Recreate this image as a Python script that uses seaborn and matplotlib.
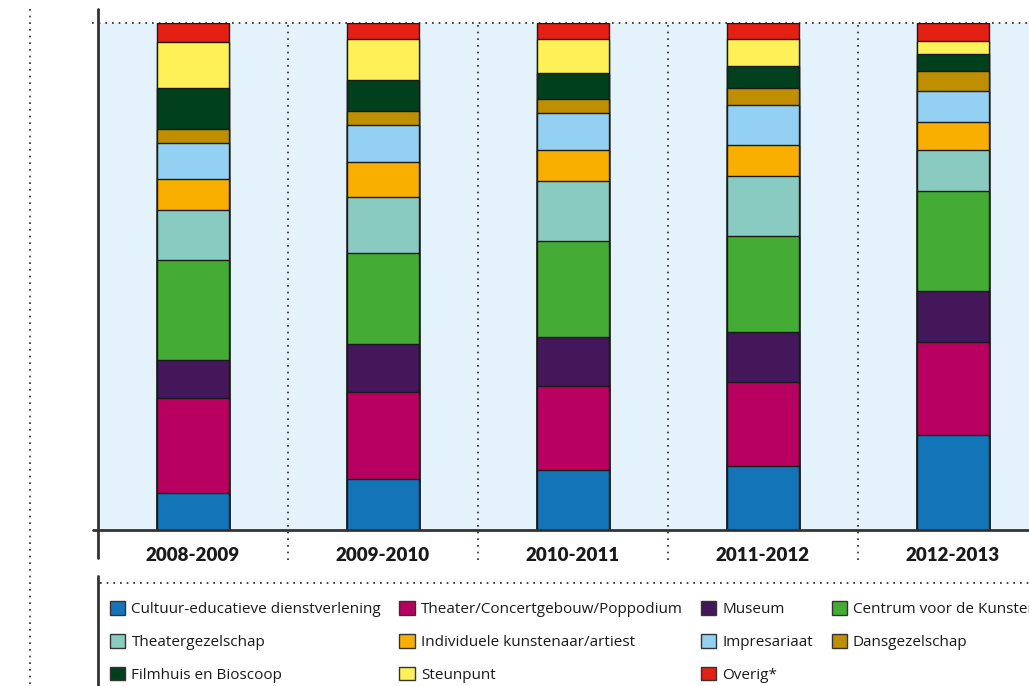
import matplotlib
matplotlib.use("Agg")
import matplotlib.pyplot as plt
from matplotlib.lines import Line2D
from matplotlib.patches import Patch
import seaborn as sns
import pandas as pd
import numpy as np

years = ["2008-2009", "2009-2010", "2010-2011", "2011-2012", "2012-2013"]
series = [
    "Cultuur-educatieve dienstverlening",
    "Theater/Concertgebouw/Poppodium",
    "Museum",
    "Centrum voor de Kunsten",
    "Theatergezelschap",
    "Individuele kunstenaar/artiest",
    "Impresariaat",
    "Dansgezelschap",
    "Filmhuis en Bioscoop",
    "Steunpunt",
    "Overig*",
]
cultuur_edu = [7.3, 10.1, 11.8, 12.6, 18.7]
theater_concert = [18.8, 17.0, 16.6, 16.6, 18.3]
museum = [7.5, 9.5, 9.7, 9.9, 10.2]
centrum_kunsten = [19.6, 17.9, 19.0, 19.0, 19.6]
theatergezelschap = [9.9, 11.1, 11.8, 11.8, 8.2]
individuele = [6.2, 6.9, 6.1, 6.2, 5.4]
impresariaat = [7.1, 7.3, 7.4, 7.9, 6.2]
dansgezelschap = [2.6, 2.8, 2.6, 3.3, 3.9]
filmhuis = [8.2, 6.0, 5.3, 4.4, 3.4]
steunpunt = [9.1, 8.2, 6.7, 5.2, 2.5]
overig = [3.7, 3.1, 3.1, 3.2, 3.6]

values = [cultuur_edu, theater_concert, museum, centrum_kunsten, theatergezelschap,
          individuele, impresariaat, dansgezelschap, filmhuis, steunpunt, overig]
colors = ["#1474B8", "#B80060", "#44165A", "#44AC34", "#8ACBC1", "#F9AF00",
          "#93D0F2", "#BF8F00", "#01401D", "#FEF057", "#E41F13"]

sns.set_theme(style="white")
plt.rcParams["font.family"] = ["Open Sans", "DejaVu Sans"]

W, H = 1029, 686
fig = plt.figure(figsize=(W / 100, H / 100), dpi=100)
ax = fig.add_axes([98 / W, (H - 530) / H, 950 / W, 507 / H])
ax.set_facecolor("#E4F2FB")

arr = np.array(values, dtype=float)
totals = arr.sum(axis=0)
pct = arr / totals * 100
cum = np.cumsum(pct, axis=0)

# draw cumulative bars from the top layer down so lower layers sit on top
for i in range(len(series) - 1, -1, -1):
    df = pd.DataFrame({"year": years, "cum": cum[i]})
    sns.barplot(data=df, x="year", y="cum", color=colors[i], width=0.38,
                edgecolor="#1a1a1a", linewidth=1.0, saturation=1, ax=ax)

ax.set_xlim(-0.5, len(years) - 0.5)
ax.set_ylim(0, 100)
ax.set_xlabel("")
ax.set_ylabel("")
ax.set_yticks([])
ax.set_xticks(range(len(years)))
ax.set_xticklabels([])
ax.tick_params(axis="x", length=0)
for s in ax.spines.values():
    s.set_visible(False)

# category labels
for i, y in enumerate(years):
    ax.text(i, -0.05, y, transform=ax.get_xaxis_transform(), ha="center", va="center",
            fontsize=13.5, fontweight="heavy", family=["Lato", "DejaVu Sans"], color="#1a1a1a")

# dotted separators
for xs in np.arange(0.5, len(years) - 0.5, 1.0):
    ax.axvline(xs, ymin=-30 / 507, ymax=1, color="#222222", linestyle=(0, (1, 3)),
               linewidth=1.2, clip_on=False, zorder=0.5)
# dotted top line
ax.axhline(100, xmin=-6 / 950, xmax=1, color="#222222", linestyle=(0, (1, 3)),
           linewidth=1.2, clip_on=False, zorder=0.5)
# solid x axis
ax.axhline(0, xmin=-5 / 950, xmax=1, color="#333333", linewidth=2, clip_on=False, zorder=5)


def fig_line(x0, y0, x1, y1, **kw):
    fig.add_artist(Line2D([x0 / W, x1 / W], [1 - y0 / H, 1 - y1 / H],
                          transform=fig.transFigure, **kw))

# solid y axis
fig_line(98, 9, 98, 558, color="#333333", linewidth=2)
# left dotted line
fig_line(30, 9, 30, 686, color="#222222", linestyle=(0, (1, 3)), linewidth=1.2)
# legend frame lines
fig_line(98, 576, 98, 686, color="#333333", linewidth=2)
fig_line(100, 583, 1029, 583, color="#222222", linestyle=(0, (1, 3)), linewidth=1.2)

# legend: column-major ordering to reproduce the row layout
order = [0, 4, 8, 1, 5, 9, 2, 6, 10, 3, 7]
handles = [Patch(facecolor=colors[k], edgecolor="#333333", linewidth=1.0) for k in order]
labels = [series[k] for k in order]
fig.legend(handles, labels, ncol=4, loc="upper left",
           bbox_to_anchor=(110 / W, 1 - 601 / H), frameon=False,
           fontsize=11, handlelength=1.0, handleheight=1.0, handletextpad=0.4,
           columnspacing=1.2, labelspacing=1.1, borderpad=0, borderaxespad=0,
           labelcolor="#1a1a1a")

fig.savefig("out.png", dpi=100)
